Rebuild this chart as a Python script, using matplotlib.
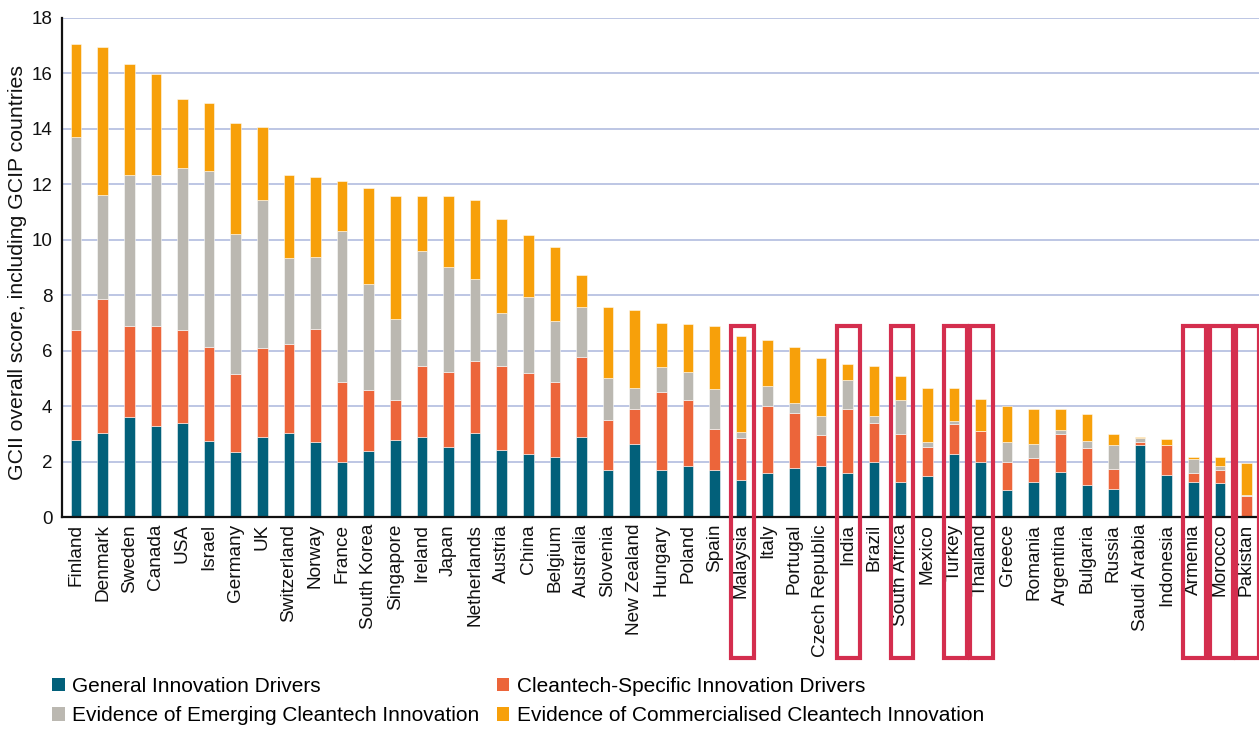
import matplotlib
matplotlib.use("Agg")
import matplotlib.pyplot as plt
import matplotlib.transforms as mtransforms
from matplotlib.patches import Rectangle, Patch
import numpy as np

plt.rcParams['font.family'] = ['Liberation Sans', 'DejaVu Sans']

countries = [
    "Finland", "Denmark", "Sweden", "Canada", "USA", "Israel", "Germany", "UK",
    "Switzerland", "Norway", "France", "South Korea", "Singapore", "Ireland",
    "Japan", "Netherlands", "Austria", "China", "Belgium", "Australia",
    "Slovenia", "New Zealand", "Hungary", "Poland", "Spain", "Malaysia", "Italy",
    "Portugal", "Czech Republic", "India", "Brazil", "South Africa", "Mexico",
    "Turkey", "Thailand", "Greece", "Romania", "Argentina", "Bulgaria", "Russia",
    "Saudi Arabia", "Indonesia", "Armenia", "Morocco", "Pakistan",
]

general_drivers = [
    2.77, 3.03, 3.60, 3.29, 3.39, 2.73, 2.34, 2.89, 3.03, 2.69, 1.99, 2.38,
    2.78, 2.89, 2.53, 3.03, 2.43, 2.28, 2.18, 2.89, 1.68, 2.64, 1.68, 1.83,
    1.68, 1.33, 1.58, 1.77, 1.83, 1.58, 1.99, 1.26, 1.47, 2.28, 1.98, 0.96,
    1.26, 1.63, 1.17, 1.01, 2.59, 1.52, 1.26, 1.22, 0.00,
]
cleantech_drivers = [
    3.97, 4.83, 3.29, 3.60, 3.35, 3.40, 2.82, 3.19, 3.22, 4.09, 2.89, 2.20,
    1.45, 2.54, 2.71, 2.60, 3.00, 2.90, 2.70, 2.89, 1.82, 1.25, 2.84, 2.38,
    1.51, 1.51, 2.43, 1.99, 1.11, 2.31, 1.41, 1.74, 1.06, 1.07, 1.12, 1.02,
    0.87, 1.37, 1.32, 0.71, 0.10, 1.07, 0.32, 0.46, 0.76,
]
emerging_innovation = [
    6.96, 3.77, 5.44, 5.44, 5.84, 6.35, 5.04, 5.35, 3.09, 2.61, 5.44, 3.81,
    2.90, 4.17, 3.77, 2.95, 1.94, 2.75, 2.19, 1.79, 1.53, 0.78, 0.88, 1.02,
    1.43, 0.21, 0.71, 0.36, 0.72, 1.04, 0.26, 1.21, 0.17, 0.11, 0.00, 0.71,
    0.51, 0.14, 0.25, 0.87, 0.15, 0.00, 0.50, 0.15, 0.05,
]
commercialised_innovation = [
    3.36, 5.31, 4.01, 3.65, 2.49, 2.44, 4.01, 2.63, 2.99, 2.88, 1.80, 3.48,
    4.44, 1.97, 2.56, 2.85, 3.39, 2.23, 2.68, 1.15, 2.54, 2.78, 1.61, 1.72,
    2.28, 3.49, 1.67, 2.02, 2.07, 0.60, 1.77, 0.86, 1.97, 1.21, 1.16, 1.32,
    1.26, 0.76, 0.97, 0.41, 0.05, 0.21, 0.10, 0.35, 1.12,
]

series_labels = [
    "General Innovation Drivers",
    "Cleantech-Specific Innovation Drivers",
    "Evidence of Emerging Cleantech Innovation",
    "Evidence of Commercialised Cleantech Innovation",
]
series_colors = ["#02607A", "#EC653A", "#BBB8B1", "#F7A00A"]

# Countries outlined with a frame (GCIP countries)
highlighted = ["Malaysia", "India", "South Africa", "Turkey", "Thailand",
               "Armenia", "Morocco", "Pakistan"]

W, H = 1259, 733
fig = plt.figure(figsize=(W / 100, H / 100), dpi=100)
ax = fig.add_axes([62 / W, 1 - 517 / H, 1 - 62 / W, (517 - 18) / H])

x = np.arange(len(countries))
bottom = np.zeros(len(countries))
series = [general_drivers, cleantech_drivers, emerging_innovation, commercialised_innovation]
for vals, color, label in zip(series, series_colors, series_labels):
    vals = np.array(vals)
    ax.bar(x, vals, width=0.40, bottom=bottom, color=color, label=label,
           edgecolor=(1, 1, 1, 0.6), linewidth=0.6, zorder=3)
    bottom += vals

ax.set_xlim(-0.53, len(countries) - 0.53)
ax.set_ylim(0, 18)
ax.set_yticks(np.arange(0, 19, 2))
ax.set_xticks(x)
ax.set_xticklabels(countries, rotation=90, fontsize=13.7, color="#111111")
ax.tick_params(axis='x', length=0, pad=5)
ax.tick_params(axis='y', length=0, pad=7, labelsize=13.5, labelcolor="#111111")
ax.yaxis.grid(True, color="#B8C2E2", linewidth=1.3, zorder=0)
ax.set_axisbelow(True)
for side in ("top", "right"):
    ax.spines[side].set_visible(False)
for side in ("left", "bottom"):
    ax.spines[side].set_color("#111111")
    ax.spines[side].set_linewidth(1.6)
    ax.spines[side].set_zorder(4)

fig.text(18 / W, 1 - 272 / H, "GCII overall score, including GCIP countries",
         rotation=90, ha="center", va="center", fontsize=15.3, color="#111111")

# Frames around the highlighted countries, spanning bar and label
trans = mtransforms.blended_transform_factory(ax.transData, ax.transAxes)
y_top = (517 - 326) / 499
y_bot = (517 - 658) / 499
for name in highlighted:
    i = countries.index(name)
    rect = Rectangle((i - 0.43 + 0.05, y_bot), 0.86, y_top - y_bot,
                     transform=trans, fill=False, edgecolor="#D42E4E",
                     linewidth=3.0, clip_on=False, zorder=5)
    ax.add_patch(rect)

handles = [Patch(facecolor=c, edgecolor='none') for c in series_colors]
order = [0, 2, 1, 3]
fig.legend([handles[k] for k in order], [series_labels[k] for k in order],
           loc="upper left", bbox_to_anchor=(52 / W, 1 - 677 / H),
           ncol=2, frameon=False, fontsize=15, handlelength=0.6,
           handleheight=0.6, handletextpad=0.35, columnspacing=0.86,
           labelspacing=0.5, borderaxespad=0, borderpad=0)

fig.savefig("out.png", dpi=100)
